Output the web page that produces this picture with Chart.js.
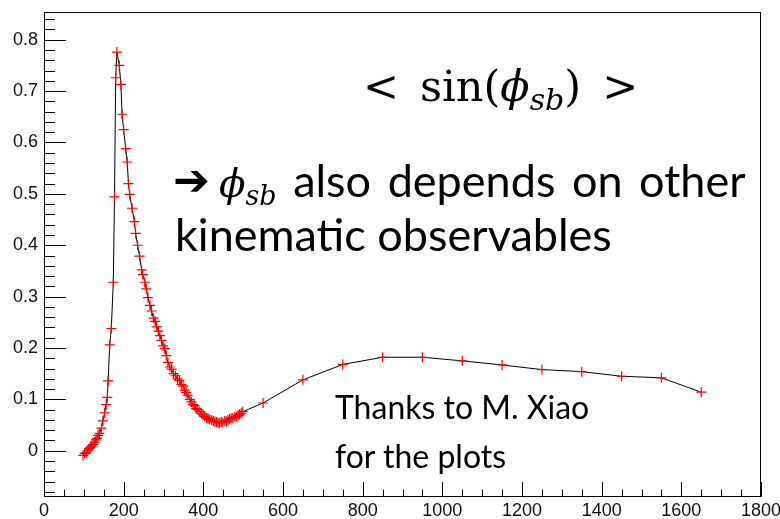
<!DOCTYPE html>
<html>
<head>
<meta charset="utf-8">
<script src="https://cdn.jsdelivr.net/npm/chart.js@4.4.1/dist/chart.umd.min.js"></script>
<style>
  html, body { margin: 0; padding: 0; background: #fff; }
  #wrap { position: relative; width: 780px; height: 519px; overflow: hidden; }
  #plot { position: absolute; left: 0; top: 0; }
  .note { position: absolute; white-space: nowrap; color: #000; line-height: 1; font-family: Lato, "Open Sans", sans-serif; }
  .math { font-family: "DejaVu Serif", "Liberation Serif", serif; }
  .sb { font-style: italic; font-size: 0.7em; position: relative; top: 0.3em; }
  .phi { font-family: "DejaVu Serif", serif; font-style: italic; }
</style>
</head>
<body>
<div id="wrap">
  <canvas id="plot" width="780" height="519"></canvas>
  <div class="note math" id="avg" style="left:363px; top:65px; font-size:43px;">&lt;<span style="margin-left:21px">sin(</span><span class="phi">ϕ</span><span class="sb">sb</span>)<span style="margin-left:21px">&gt;</span></div>
  <div class="note" id="line1" style="left:173px; top:158px; font-size:45px;"><span style="font-family:'DejaVu Sans'; font-weight:bold; font-size:44px; position:relative; top:-2px;">➔</span><span class="phi" style="font-size:39px; margin-left:9px">ϕ</span><span class="sb" style="font-family:'DejaVu Serif'; font-size:27px">sb</span><span style="word-spacing:5px"> also depends on other</span></div>
  <div class="note" id="line2" style="left:175px; top:212px; font-size:45px;">kinematic observables</div>
  <div class="note" id="thx1" style="left:335px; top:391px; font-size:32px;">Thanks to M. Xiao</div>
  <div class="note" id="thx2" style="left:335px; top:440px; font-size:32px;">for the plots</div>
</div>
<script>
// <sin(phi_sb)> versus mass, red markers joined by a thin black line
const phiX = [98, 102, 106, 110, 113, 116, 119, 123, 127, 130, 133, 136, 139, 144, 148, 152, 156, 159, 161, 165,
  169, 174, 177, 180, 183, 189, 193, 196, 200, 205, 209, 212, 215, 221, 227, 230, 235, 240, 245, 248,
  253, 257, 261, 266, 270, 275, 279, 283, 287, 291, 295, 299, 303, 307, 311, 316, 320, 325, 330, 335,
  340, 345, 349, 353, 357, 361, 366, 370, 374, 378, 382, 386, 391, 395, 399, 403, 408, 412, 416, 421,
  425, 429, 433, 437, 441, 445, 449, 454, 458, 462, 466, 470, 474, 479, 483, 487, 491, 495, 499,
  550, 650, 750, 850, 950, 1050, 1150, 1250, 1350, 1450, 1550, 1650];
const sinMean = [-0.009, -0.005, -0.004, 0.001, 0.004, 0.006, 0.009, 0.012, 0.017, 0.021, 0.024, 0.030, 0.034, 0.044, 0.058, 0.074, 0.090, 0.104, 0.136, 0.206,
  0.238, 0.328, 0.494, 0.726, 0.776, 0.750, 0.713, 0.655, 0.625, 0.588, 0.562, 0.520, 0.499, 0.472, 0.446, 0.423, 0.400, 0.379, 0.352, 0.343,
  0.328, 0.315, 0.298, 0.283, 0.272, 0.258, 0.252, 0.241, 0.233, 0.224, 0.215, 0.204, 0.199, 0.185, 0.172, 0.163, 0.159, 0.150, 0.146, 0.140,
  0.137, 0.129, 0.126, 0.118, 0.113, 0.108, 0.100, 0.095, 0.090, 0.088, 0.082, 0.080, 0.076, 0.073, 0.070, 0.067, 0.064, 0.063, 0.061, 0.060,
  0.058, 0.057, 0.056, 0.055, 0.054, 0.056, 0.055, 0.058, 0.057, 0.060, 0.062, 0.063, 0.064, 0.066, 0.066, 0.069, 0.071, 0.073, 0.076,
  0.093, 0.138, 0.168, 0.182, 0.182, 0.175, 0.167, 0.158, 0.154, 0.145, 0.142, 0.114];

const X_MAJOR = [0, 200, 400, 600, 800, 1000, 1200, 1400, 1600, 1800];
const X_LABELS = ['0', '200', '400', '600', '800', '1000', '1200', '1400', '1600', '1800'];
const Y_MAJOR = [0, 0.1, 0.2, 0.3, 0.4, 0.5, 0.6, 0.7, 0.8];
const Y_LABELS = ['0', '0.1', '0.2', '0.3', '0.4', '0.5', '0.6', '0.7', '0.8'];

// minor divisions: 4 between each pair of labelled ticks
const xTicks = [];
for (let v = 0; v <= 1800; v += 50) xTicks.push(v);
const yTicks = [];
for (let i = -4; i <= 42; i++) yTicks.push(Math.round(i * 2) / 100);

const isMajor = (list, v) => list.findIndex(m => Math.abs(m - v) < 1e-9);

// ROOT style frame: box round the plot, ticks pointing inward
const rootFrame = {
  id: 'rootFrame',
  beforeDatasetsDraw(chart) {
    const { ctx, chartArea: { left, right, top, bottom }, scales: { x, y } } = chart;
    ctx.save();
    ctx.strokeStyle = '#000';
    ctx.lineWidth = 1;
    ctx.strokeRect(left + 0.5, top + 0.5, right - left - 1, bottom - top - 1);
    ctx.beginPath();
    xTicks.forEach(v => {
      const px = Math.round(x.getPixelForValue(v)) + 0.5;
      const len = isMajor(X_MAJOR, v) >= 0 ? 15 : 7.5;
      ctx.moveTo(px, bottom);
      ctx.lineTo(px, bottom - len);
    });
    yTicks.forEach(v => {
      const py = Math.round(y.getPixelForValue(v)) + 0.5;
      const len = isMajor(Y_MAJOR, v) >= 0 ? 22 : 11;
      ctx.moveTo(left, py);
      ctx.lineTo(left + len, py);
    });
    ctx.stroke();
    ctx.restore();
  }
};

new Chart(document.getElementById('plot'), {
  type: 'line',
  data: {
    datasets: [{
      data: phiX.map((v, i) => ({ x: v, y: sinMean[i] })),
      borderColor: '#000',
      borderWidth: 1,
      tension: 0,
      pointStyle: 'cross',
      pointRadius: 5,
      pointBorderColor: '#ff0000',
      pointBorderWidth: 1.2,
      pointBackgroundColor: '#ff0000',
      fill: false
    }]
  },
  options: {
    responsive: false,
    animation: false,
    layout: { padding: { top: 12, right: 19, left: 0, bottom: 0 } },
    plugins: { legend: { display: false }, tooltip: { enabled: false } },
    scales: {
      x: {
        type: 'linear',
        min: 0,
        max: 1800,
        afterBuildTicks: s => { s.ticks = xTicks.map(v => ({ value: v })); },
        afterFit: s => { s.height = 22; s.paddingLeft = 0; s.paddingRight = 0; },
        grid: { display: false, drawTicks: false },
        border: { display: false },
        ticks: {
          autoSkip: false,
          maxRotation: 0,
          padding: 3,
          color: '#111',
          font: { family: 'Liberation Sans', size: 18 },
          callback: v => { const k = isMajor(X_MAJOR, v); return k >= 0 ? X_LABELS[k] : ''; }
        }
      },
      y: {
        type: 'linear',
        min: -0.09,
        max: 0.854,
        afterBuildTicks: s => { s.ticks = yTicks.map(v => ({ value: v })); },
        afterFit: s => { s.width = 44; s.paddingTop = 0; s.paddingBottom = 0; },
        grid: { display: false, drawTicks: false },
        border: { display: false },
        ticks: {
          autoSkip: false,
          padding: 6,
          color: '#111',
          font: { family: 'Liberation Sans', size: 18 },
          callback: v => { const k = isMajor(Y_MAJOR, v); return k >= 0 ? Y_LABELS[k] : ''; }
        }
      }
    }
  },
  plugins: [rootFrame]
});
</script>
</body>
</html>
